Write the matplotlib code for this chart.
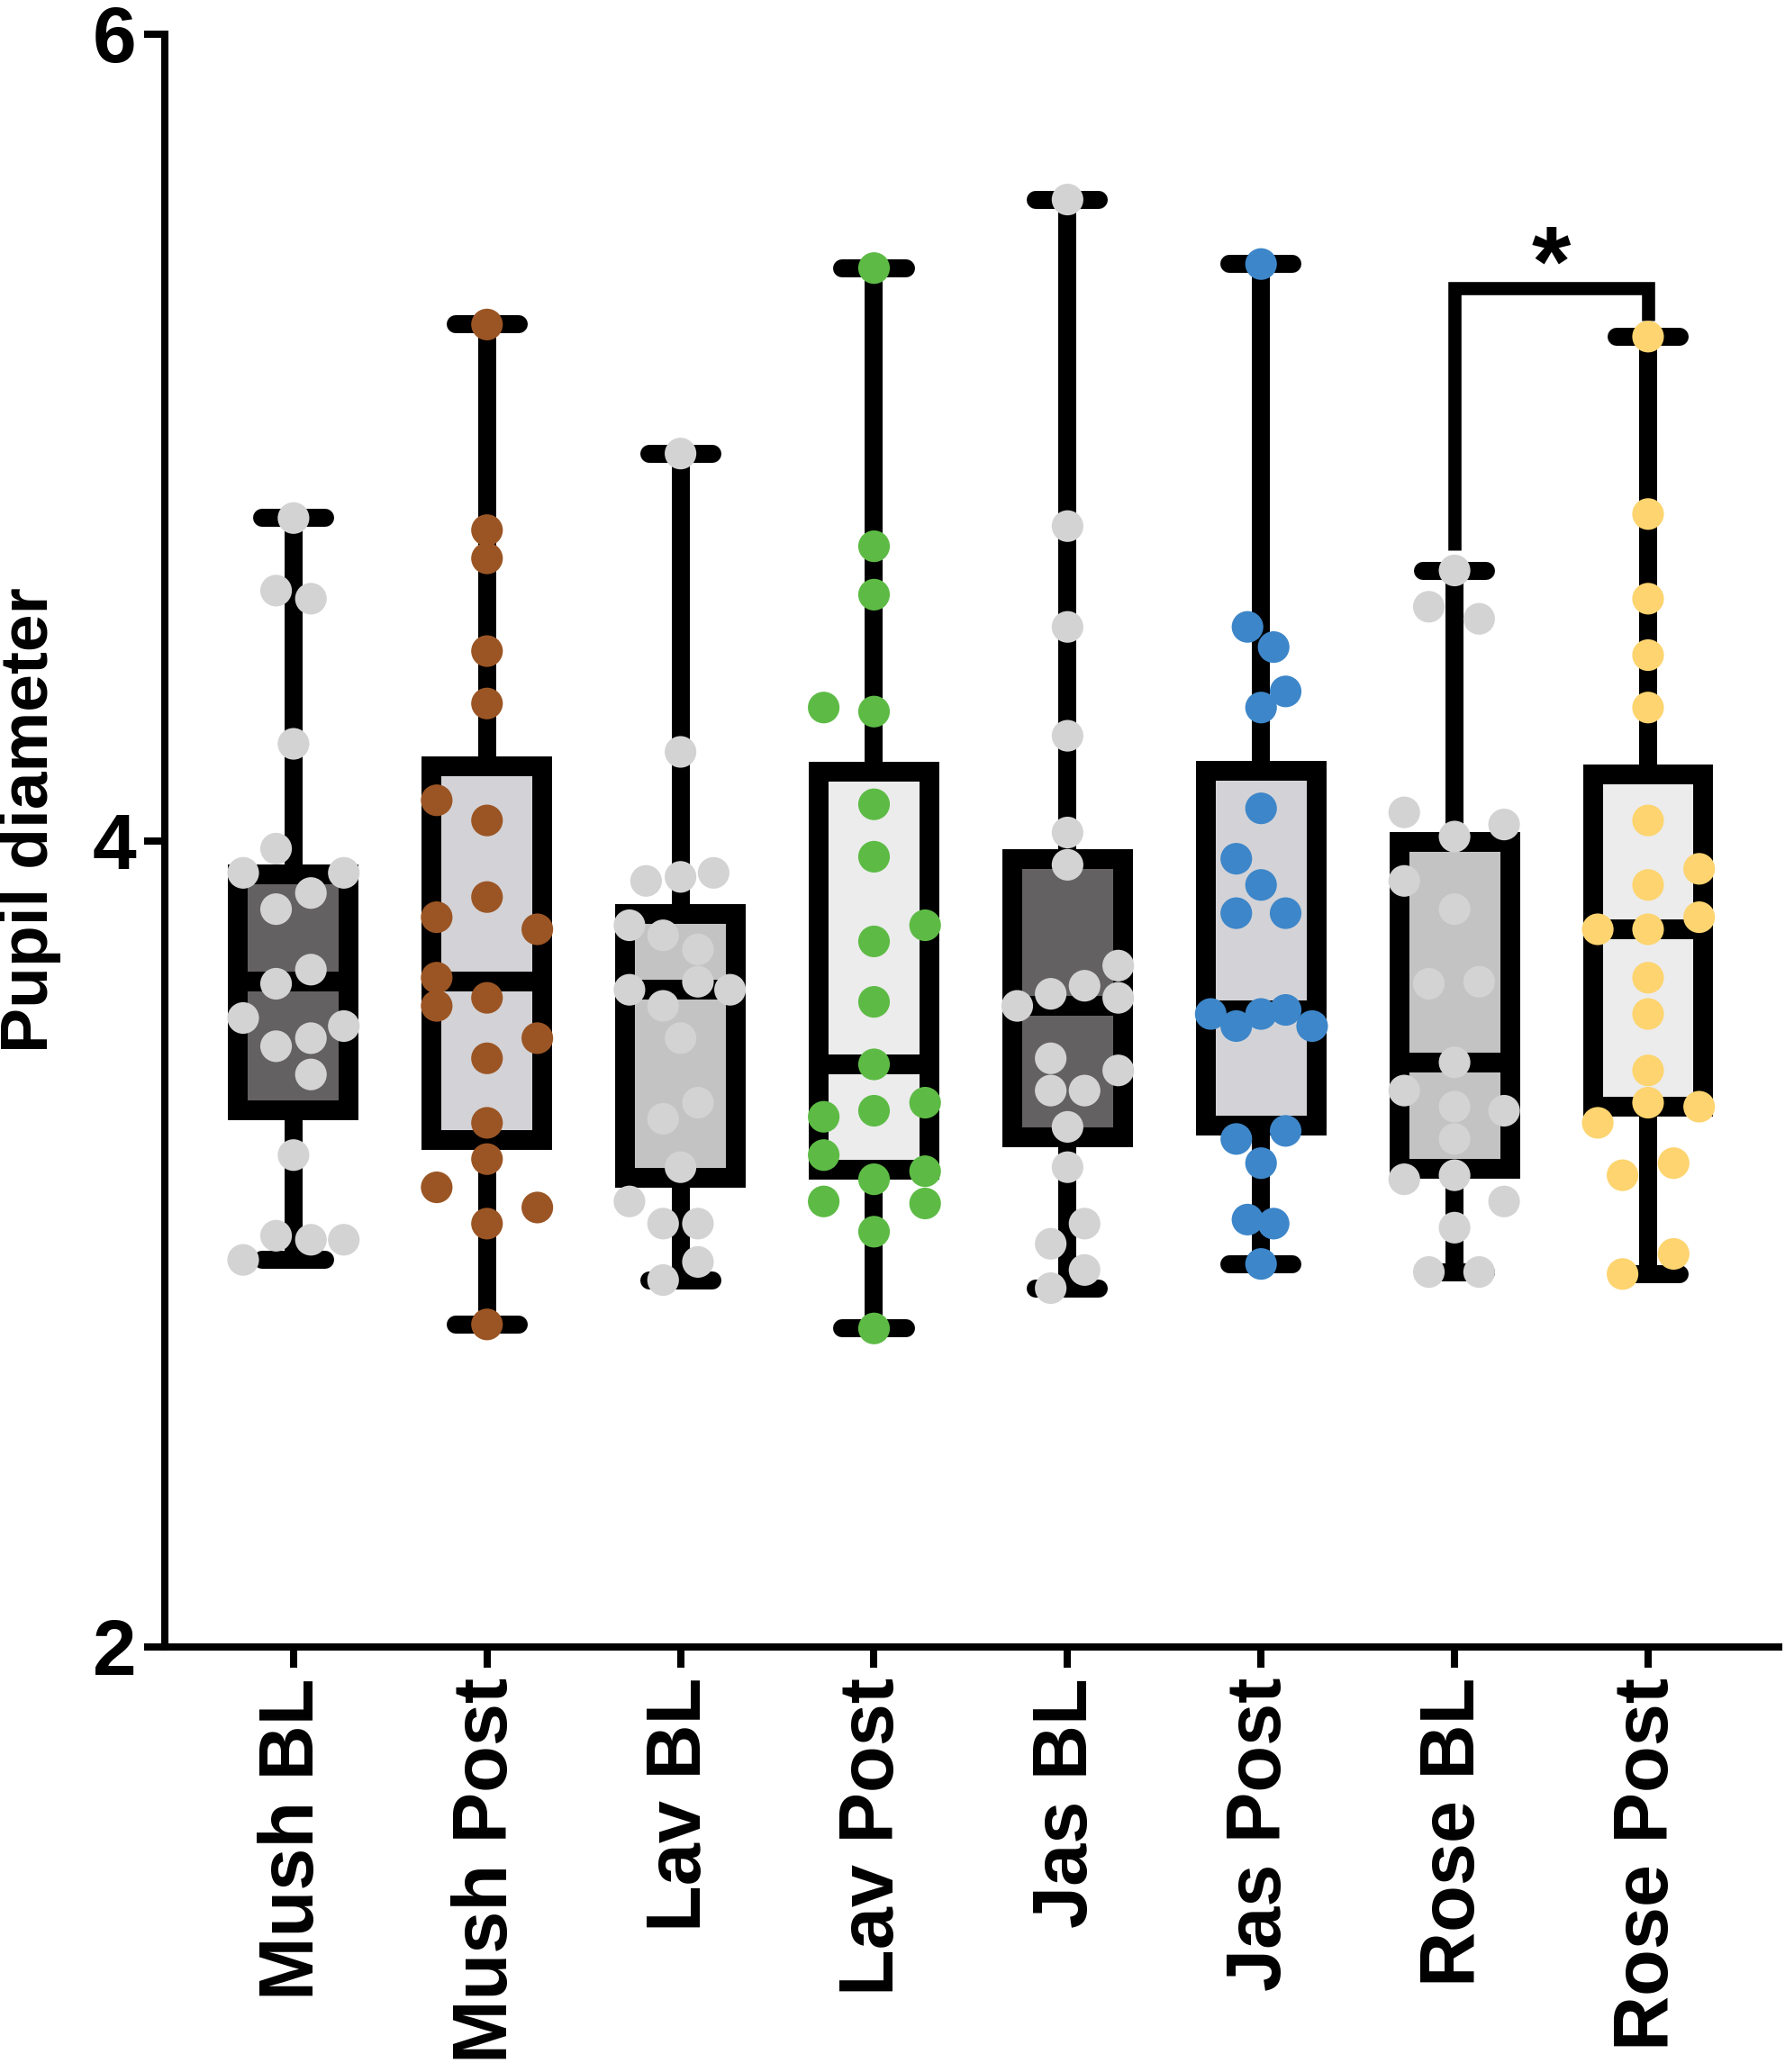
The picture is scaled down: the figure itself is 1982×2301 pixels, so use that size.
import matplotlib
matplotlib.use("Agg")
import matplotlib.pyplot as plt

plt.rcParams['font.family'] = ['Liberation Sans', 'DejaVu Sans']
plt.rcParams['font.weight'] = 'bold'

categories = ["Mush BL", "Mush Post", "Lav BL", "Lav Post",
              "Jas BL", "Jas Post", "Rose BL", "Rose Post"]

# individual observations (value, horizontal jitter in category units)
mush_bl = [4.80, 4.62, 4.60, 4.24, 3.98, 3.92, 3.92, 3.87, 3.83, 3.68, 3.645,
           3.56, 3.54, 3.51, 3.49, 3.42, 3.22, 3.02, 3.01, 3.01, 2.96]
mush_bl_dx = [0, -.09, .09, 0, -.09, -.26, .26, .09, -.09, .09, -.09,
              -.26, .26, .09, -.09, .09, 0, -.09, .09, .26, -.26]

mush_post = [5.28, 4.77, 4.70, 4.47, 4.34, 4.10, 4.05, 3.86, 3.81, 3.78, 3.66,
             3.61, 3.59, 3.51, 3.46, 3.30, 3.21, 3.14, 3.09, 3.05, 2.80]
mush_post_dx = [0, 0, 0, 0, 0, -.26, 0, 0, -.26, .26, -.26,
                0, -.26, .26, 0, 0, 0, -.26, .26, 0, 0]

lav_bl = [4.96, 4.22, 3.90, 3.91, 3.92, 3.79, 3.765, 3.73, 3.65, 3.63, 3.63,
          3.59, 3.51, 3.35, 3.31, 3.19, 3.105, 3.05, 3.05, 2.955, 2.91]
lav_bl_dx = [0, 0, -.178, 0, .171, -.264, -.09, .09, .09, -.264, .256,
             -.09, 0, .09, -.09, 0, -.264, -.09, .09, .09, -.09]

lav_post = [5.42, 4.73, 4.61, 4.33, 4.32, 4.09, 3.96, 3.79, 3.75, 3.60, 3.445,
            3.35, 3.33, 3.315, 3.22, 3.18, 3.16, 3.10, 3.105, 3.03, 2.79]
lav_post_dx = [0, 0, 0, -.26, 0, 0, 0, .264, 0, 0, 0,
               .264, 0, -.26, -.26, .264, 0, .264, -.26, 0, 0]

jas_bl = [5.59, 4.78, 4.53, 4.26, 4.02, 3.94, 3.69, 3.64, 3.62, 3.61, 3.59,
          3.46, 3.43, 3.38, 3.38, 3.29, 3.19, 3.05, 3.00, 2.935, 2.89]
jas_bl_dx = [0, 0, 0, 0, 0, 0, .262, .088, -.087, .262, -.26,
             -.087, .262, -.087, .088, 0, 0, .088, -.087, .088, -.087]

jas_post = [5.43, 4.53, 4.48, 4.37, 4.33, 4.08, 3.955, 3.89, 3.82, 3.82, 3.57,
            3.54, 3.57, 3.58, 3.54, 3.26, 3.28, 3.20, 3.06, 3.05, 2.95]
jas_post_dx = [0, -.07, .065, .127, 0, 0, -.128, 0, -.128, .127, -.26,
               -.128, 0, .127, .264, -.128, .127, 0, -.07, .065, 0]

rose_bl = [4.67, 4.58, 4.55, 4.07, 4.04, 4.01, 3.90, 3.83, 3.645, 3.65, 3.45,
           3.38, 3.34, 3.33, 3.26, 3.16, 3.17, 3.105, 3.04, 2.93, 2.93]
rose_bl_dx = [0, -.133, .127, -.26, .256, 0, -.26, 0, -.133, .127, 0,
              -.26, 0, .256, 0, -.26, 0, .256, 0, -.133, .127]

rose_post = [5.25, 4.81, 4.60, 4.46, 4.33, 4.05, 3.93, 3.89, 3.81, 3.78, 3.78,
             3.66, 3.57, 3.43, 3.35, 3.34, 3.30, 3.17, 3.20, 2.975, 2.925]
rose_post_dx = [0, 0, 0, 0, 0, 0, .264, 0, .264, -.26, 0,
                0, 0, 0, 0, .264, -.26, -.132, .132, .132, -.132]

# box summary (min-to-max whiskers)
whis_lo = [2.96, 2.80, 2.91, 2.79, 2.89, 2.95, 2.93, 2.925]
q1      = [3.33, 3.257, 3.163, 3.183, 3.263, 3.293, 3.185, 3.34]
median  = [3.65, 3.65, 3.63, 3.445, 3.59, 3.58, 3.45, 3.78]
q3      = [3.917, 4.184, 3.817, 4.17, 3.954, 4.174, 3.997, 4.164]
whis_hi = [4.80, 5.28, 4.96, 5.42, 5.59, 5.43, 4.67, 5.25]

box_colors = ["#646162", "#d3d3d7", "#c3c3c3", "#ececec",
              "#646162", "#d3d3d7", "#c3c3c3", "#ececec"]
dot_colors = ["#d3d3d3", "#9b5524", "#d3d3d3", "#5dbb45",
              "#d3d3d3", "#3d86c9", "#d3d3d3", "#fdd46f"]

groups = [(mush_bl, mush_bl_dx), (mush_post, mush_post_dx),
          (lav_bl, lav_bl_dx), (lav_post, lav_post_dx),
          (jas_bl, jas_bl_dx), (jas_post, jas_post_dx),
          (rose_bl, rose_bl_dx), (rose_post, rose_post_dx)]

# significance annotation
sig_pair = (6, 7)
sig_bar_y = 5.37
sig_leg_lo = (4.72, 5.29)
sig_label = "*"

fig = plt.figure(figsize=(19.83, 23.01), dpi=100)
ax = fig.add_axes([183 / 1983, 1 - 1829 / 2301, (1975 - 183) / 1983, (1829 - 38) / 2301])

stats = []
for i in range(len(categories)):
    stats.append(dict(whislo=whis_lo[i], q1=q1[i], med=median[i],
                      q3=q3[i], whishi=whis_hi[i], fliers=[]))

positions = list(range(len(categories)))
bp = ax.bxp(stats, positions=positions, widths=0.572, patch_artist=True,
            showfliers=False, capwidths=0.326, manage_ticks=False,
            boxprops=dict(linewidth=15.8, edgecolor="black", joinstyle="miter"),
            medianprops=dict(linewidth=15.8, color="black", solid_capstyle="butt"),
            whiskerprops=dict(linewidth=14.4, color="black", solid_capstyle="butt"),
            capprops=dict(linewidth=14.4, color="black", solid_capstyle="round"),
            zorder=2)
for patch, c in zip(bp["boxes"], box_colors):
    patch.set_facecolor(c)

for i, (vals, dxs) in enumerate(groups):
    xs = [positions[i] + d for d in dxs]
    ax.scatter(xs, vals, s=640, color=dot_colors[i], edgecolors="none",
               zorder=4, clip_on=False)

# significance bracket
a, b = sig_pair
ax.plot([a, a, b, b], [sig_leg_lo[0], sig_bar_y, sig_bar_y, sig_leg_lo[1]],
        color="black", linewidth=10.5, solid_joinstyle="miter",
        solid_capstyle="butt", zorder=3, clip_on=False)
ax.text((a + b) / 2, 5.415, sig_label, ha="center", va="center",
        fontsize=80, fontweight="bold", zorder=5)

ax.set_xlim(-0.665, 7.675)
ax.set_ylim(2, 6)
ax.set_yticks([2, 4, 6])
ax.set_yticklabels(["2", "4", "6"])
ax.set_xticks(positions)
ax.set_xticklabels(categories, rotation=90)

for s in ["top", "right"]:
    ax.spines[s].set_visible(False)
for s in ["left", "bottom"]:
    ax.spines[s].set_linewidth(5.8)
    ax.spines[s].set_capstyle("projecting")

ax.tick_params(axis="y", direction="out", length=16.5, width=5.8,
               labelsize=63, pad=6)
ax.tick_params(axis="x", direction="out", length=16.5, width=5.8,
               labelsize=61, pad=8)
for lab in ax.get_xticklabels() + ax.get_yticklabels():
    lab.set_fontweight("bold")

fig.text(34 / 1983, 1 - 911 / 2301, "Pupil diameter", rotation=90,
         ha="center", va="center", fontsize=54, fontweight="bold")

fig.savefig("out.png", dpi=100, facecolor="white")
